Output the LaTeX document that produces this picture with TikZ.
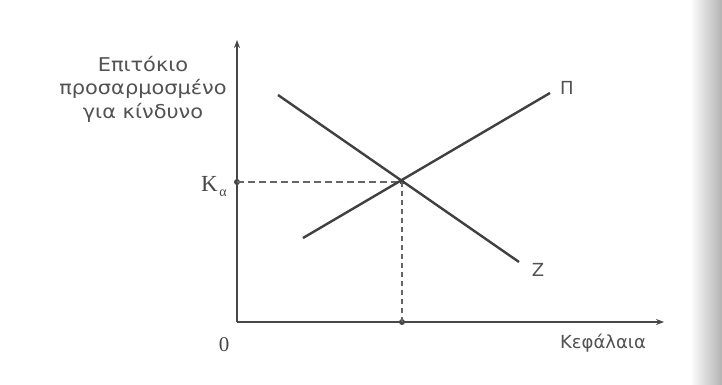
\documentclass[tikz,border=0pt]{standalone}
\usepackage{fontspec}
\setmainfont{Liberation Serif}
\newfontfamily\labelfont{DejaVu Sans}
\newfontfamily\widefont[FakeStretch=1.1]{DejaVu Sans}
\usetikzlibrary{arrows.meta}
\begin{document}
\begin{tikzpicture}[x=1pt,y=-1pt,
  axis/.style={draw=black!72, line width=1.5pt},
  curve/.style={draw=black!75, line width=2.4pt},
  hguide/.style={draw=black!60, line width=1.1pt, dash pattern=on 7pt off 4pt},
  vguide/.style={draw=black!60, line width=1.1pt, dash pattern=on 5pt off 4pt},
  lbl/.style={text=black!68, font=\labelfont\fontsize{18}{23.5}\selectfont, inner sep=0pt, align=center},
  ylbl/.style={text=black!68, font=\widefont\fontsize{19}{23.5}\selectfont, inner sep=0pt, align=center},
  serif/.style={text=black!72, font=\fontsize{21}{22}\selectfont, inner sep=0pt},
  dot/.style={circle, fill=black!72, inner sep=0pt, minimum size=6pt}]
\useasboundingbox (0,0) rectangle (722,385);
\fill[white] (0,0) rectangle (722,385);
\shade[left color=white, right color=black!30] (690,0) rectangle (722,385);
% points
\coordinate (O) at (237,322);
\coordinate (ytop) at (237,40);
\coordinate (xend) at (664,322);
\coordinate (E) at (402,182);
\coordinate (Zs) at (278,95);
\coordinate (Ze) at (519,262);
\coordinate (Ps) at (303,238);
\coordinate (Pe) at (550,93);
\node[dot] (Kdot) at (237,182) {};
\node[dot] (Qdot) at (402,322) {};
\node[dot, minimum size=5pt] (Edot) at (E) {};
% axes
\draw[axis, -{Stealth[length=8pt,width=6pt]}] (O) -- (ytop);
\draw[axis, -{Stealth[length=8pt,width=6pt]}] (O) -- (xend);
% guides
\draw[hguide] (Kdot.center) -- (Edot.center);
\draw[vguide] (Edot.center) -- (Qdot.center);
% curves
\draw[curve] (Zs) -- (Ze);
\draw[curve] (Ps) -- (Pe);
% labels
\node[ylbl] (ylab) at (143,89) {Επιτόκιο\\προσαρμοσμένο\\για κίνδυνο};
\node[lbl, anchor=center] (zlab) at (538,270) {Ζ};
\node[lbl, anchor=center] (plab) at (567,88) {Π};
\node[lbl] (xlab) at (603,343) {Κεφάλαια};
\node[serif] (zero) at (224,345) {0};
\node[serif, anchor=base west, font=\fontsize{23}{24}\selectfont] (ka) at (201,191) {Κ\kern1.5pt\raisebox{-5pt}{\fontsize{14}{14}\selectfont α}};
\end{tikzpicture}
\end{document}
